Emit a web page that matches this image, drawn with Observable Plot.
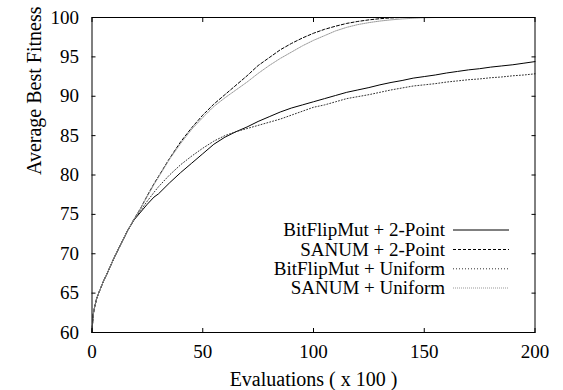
<!DOCTYPE html>
<html>
<head>
<meta charset="utf-8">
<script src="https://cdn.jsdelivr.net/npm/d3@7"></script>
<script src="https://cdn.jsdelivr.net/npm/@observablehq/plot@0.6"></script>
<style>
  html, body { margin: 0; padding: 0; background: white; }
  #chart { position: relative; width: 563px; height: 390px; }
  #chart svg { display: block; }
  #legend { position: absolute; left: 0; top: 0; pointer-events: none; }
</style>
</head>
<body>
<div id="chart"></div>
<script>
// ---- data ----
const evals = [0, 0.5, 1, 2, 3, 5, 7, 10, 13, 16, 19, 22, 25, 28, 30,
  35, 40, 45, 50, 55, 60, 65, 70, 75, 80, 85, 90, 95, 100,
  105, 110, 115, 120, 125, 130, 135, 140, 145, 150,
  155, 160, 165, 170, 175, 180, 185, 190, 195, 200];

const bitFlip2Point = [60, 62.2, 63.0, 64.2, 65.0, 66.4, 67.6, 69.5, 71.2, 72.9, 74.3, 75.3, 76.3, 77.2, 77.6,
  79.0, 80.3, 81.5, 82.7, 83.9, 84.8, 85.5, 86.1, 86.8, 87.4, 88.0, 88.5, 88.9, 89.3,
  89.7, 90.1, 90.5, 90.8, 91.1, 91.45, 91.75, 92.0, 92.3, 92.5,
  92.7, 92.95, 93.15, 93.35, 93.5, 93.7, 93.85, 94.0, 94.2, 94.4];

const sanum2Point = [60, 62.2, 63.0, 64.2, 65.0, 66.4, 67.6, 69.5, 71.2, 72.9, 74.4, 75.8, 77.4, 78.9, 79.8,
  82.1, 84.2, 86.0, 87.6, 89.0, 90.2, 91.4, 92.6, 93.9, 94.9, 95.9, 96.7, 97.4, 98.0,
  98.5, 98.9, 99.25, 99.5, 99.7, 99.85, 99.95, 100, 100, 100,
  100, 100, 100, 100, 100, 100, 100, 100, 100, 100];

const bitFlipUniform = [60, 62.2, 63.0, 64.2, 65.0, 66.4, 67.6, 69.5, 71.2, 72.9, 74.4, 75.5, 76.7, 77.8, 78.5,
  80.0, 81.3, 82.4, 83.4, 84.3, 85.0, 85.5, 85.9, 86.3, 86.7, 87.1, 87.6, 88.1, 88.6,
  88.9, 89.3, 89.7, 89.95, 90.2, 90.5, 90.8, 91.05, 91.3, 91.45,
  91.6, 91.8, 91.95, 92.1, 92.2, 92.35, 92.45, 92.6, 92.7, 92.85];

const sanumUniform = [60, 62.2, 63.0, 64.2, 65.0, 66.4, 67.6, 69.5, 71.2, 72.9, 74.4, 75.8, 77.3, 78.8, 79.7,
  82.0, 84.0, 85.8, 87.3, 88.7, 89.8, 90.8, 91.8, 92.9, 93.9, 94.8, 95.6, 96.4, 97.1,
  97.7, 98.3, 98.75, 99.1, 99.35, 99.55, 99.7, 99.82, 99.9, 99.97,
  100, 100, 100, 100, 100, 100, 100, 100, 100, 100];

const seriesNames = ["BitFlipMut + 2-Point", "SANUM + 2-Point", "BitFlipMut + Uniform", "SANUM + Uniform"];
const seriesValues = [bitFlip2Point, sanum2Point, bitFlipUniform, sanumUniform];
const seriesStroke = ["#000", "#000", "#333", "#999"];
const seriesDash = [null, "3,2", "1,2", "1,1"];

const xTicks = [0, 50, 100, 150, 200];
const yTicks = [60, 65, 70, 75, 80, 85, 90, 95, 100];
const xTitle = "Evaluations ( x 100 )";
const yTitle = "Average Best Fitness";

// ---- build ----
const tables = seriesValues.map(vals => evals.map((e, i) => ({x: e, y: vals[i]})));

const lineMarks = tables.map((t, i) => Plot.line(t, {
  x: "x", y: "y", stroke: seriesStroke[i], strokeWidth: 1,
  strokeDasharray: seriesDash[i] || undefined
}));

const blank = () => "";
const serif = "'Liberation Serif', 'Times New Roman', Times, serif";

const chart = Plot.plot({
  width: 563,
  height: 390,
  marginLeft: 91.5,
  marginRight: 28.5,
  marginTop: 17,
  marginBottom: 58,
  style: {fontFamily: serif, fontSize: "19px", background: "white", color: "black"},
  x: {domain: [0, 200]},
  y: {domain: [60, 100]},
  marks: [
    ...lineMarks,
    Plot.frame({stroke: "black", strokeWidth: 1}),
    Plot.axisY({anchor: "left", ticks: yTicks, tickSize: 0, tickPadding: 13, label: null, fontSize: 19}),
    Plot.axisX({anchor: "bottom", ticks: xTicks, tickSize: 0, tickPadding: 12, label: null, fontSize: 19}),
    Plot.axisY({anchor: "left", ticks: yTicks, tickSize: 4, dx: 4, tickFormat: blank, label: null}),
    Plot.axisY({anchor: "right", ticks: yTicks, tickSize: 4, dx: -4, tickFormat: blank, label: null}),
    Plot.axisX({anchor: "bottom", ticks: xTicks, tickSize: 4, dy: -4, tickFormat: blank, label: null}),
    Plot.axisX({anchor: "top", ticks: xTicks, tickSize: 4, dy: 4, tickFormat: blank, label: null}),
    Plot.text([xTitle], {frameAnchor: "bottom", dy: 47, text: d => d, fontSize: 20, lineAnchor: "middle"}),
    Plot.text([yTitle], {frameAnchor: "left", dx: -57, rotate: -90, text: d => d, fontSize: 20, lineAnchor: "middle"})
  ]
});

const container = document.getElementById("chart");
container.appendChild(chart);

// legend overlay (inside the plot frame, lower-right area)
const legend = d3.select(container).append("svg")
  .attr("id", "legend")
  .attr("width", 563).attr("height", 390)
  .style("font-family", serif)
  .style("font-size", "19px");

const rowY = [230, 249.5, 268.8, 288];
seriesNames.forEach((name, i) => {
  legend.append("text")
    .attr("x", 445).attr("y", rowY[i])
    .attr("text-anchor", "end")
    .attr("dy", "0.33em")
    .attr("fill", "black")
    .text(name);
  legend.append("line")
    .attr("x1", 453).attr("x2", 509)
    .attr("y1", rowY[i]).attr("y2", rowY[i])
    .attr("stroke", seriesStroke[i])
    .attr("stroke-width", 1)
    .attr("stroke-dasharray", seriesDash[i]);
});
</script>
</body>
</html>
